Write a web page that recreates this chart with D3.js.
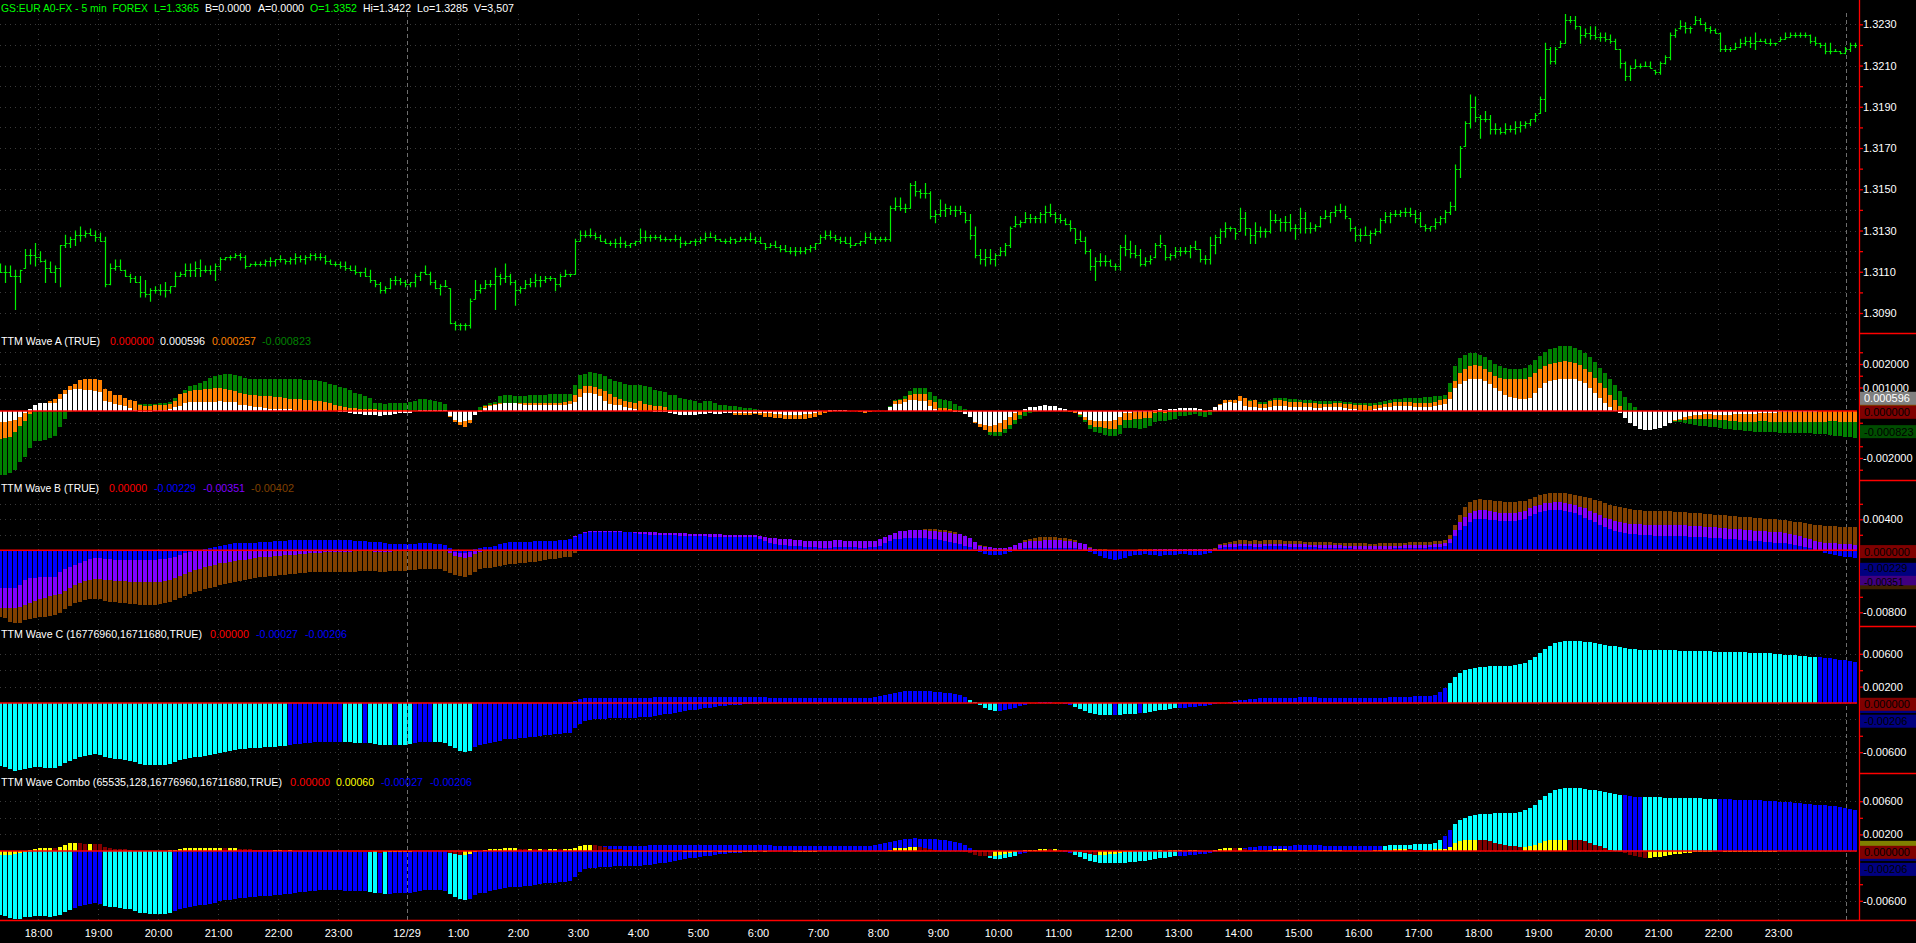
<!DOCTYPE html>
<html><head><meta charset="utf-8"><title>TTM Waves</title>
<script src="https://cdn.jsdelivr.net/npm/d3@7/dist/d3.min.js"></script>
<style>
html,body{margin:0;padding:0;background:#000;overflow:hidden}
svg{display:block;font-family:"Liberation Sans",Arial,sans-serif}
text{white-space:pre}
</style></head><body>
<svg id="chart" width="1916" height="943"></svg>
<script>
// ---------- DATA ----------
// price (pips above 1.3000), one entry per 5-min bar, first bar 17:20
const priceHigh=[114,113,113,111,111,121,121,124,120,116,115,113,
123,128,127,130,132,130,131,130,129,127,114,116,
116,111,109,108,108,106,102,103,104,105,103,110,
110,114,114,115,116,113,113,114,117,117,118,119,
119,118,114,115,115,116,117,116,118,116,117,119,
118,118,119,119,119,118,116,115,115,115,113,113,
110,112,111,106,105,103,107,108,107,106,105,109,
110,113,110,106,104,106,102,86,85,85,97,106,
104,106,106,112,109,114,109,106,103,106,107,109,
108,108,108,107,109,111,109,126,130,130,131,129,
128,126,125,126,127,125,124,125,131,130,128,128,
128,127,126,128,127,125,125,126,127,129,129,128,
126,126,127,126,127,127,129,127,127,124,124,125,
123,123,122,122,122,122,123,124,128,130,130,128,
127,127,127,124,125,129,129,127,127,127,142,146,
146,143,153,154,150,153,149,140,145,143,142,142,
142,139,138,132,121,121,121,119,122,124,132,137,
135,139,138,137,139,142,143,139,138,136,135,131,
130,127,121,117,119,118,116,114,123,128,125,123,
121,117,118,124,128,123,119,122,122,122,123,125,
121,118,127,128,131,134,132,131,141,139,131,134,
132,131,140,138,136,137,138,133,141,139,134,133,
137,140,139,142,143,142,136,132,131,132,130,131,
136,139,139,140,140,141,141,140,139,133,132,136,
137,140,144,162,171,183,196,195,186,188,186,182,
180,182,181,183,183,183,184,187,195,221,219,219,
222,235,234,234,229,228,229,229,226,226,225,223,
218,212,210,213,211,212,212,208,212,215,226,228,
232,231,229,234,233,231,229,228,226,220,219,221,
223,224,224,226,223,223,223,221,224,226,226,226,
226,226,225,224,221,221,221,218,217,219,221,221];
const priceLow=[110,105,108,92,105,112,114,113,115,105,110,105,
103,122,122,123,125,127,128,125,125,103,104,111,
111,108,105,105,98,98,96,100,99,98,100,103,
108,108,108,108,108,110,109,106,111,116,116,117,
116,112,113,113,113,113,113,113,115,114,114,114,
115,114,116,116,116,114,114,113,112,111,111,109,
108,108,105,103,100,100,102,104,104,103,103,103,
106,109,104,102,99,103,85,82,82,82,83,97,
100,102,103,92,104,105,104,94,100,102,103,103,
103,105,106,101,103,108,108,109,125,127,127,126,
125,124,123,122,122,122,122,123,124,125,125,126,
125,125,125,125,122,123,124,123,124,125,127,125,
125,124,124,124,125,125,125,124,124,121,122,122,
120,120,119,118,119,119,120,121,124,126,126,125,
124,124,122,123,123,124,126,124,125,125,125,140,
140,139,141,147,146,146,136,134,137,137,138,137,
138,134,126,117,114,113,114,113,118,118,122,132,
132,134,134,134,134,134,137,134,134,133,130,124,
125,119,111,106,113,113,113,111,111,118,117,117,
113,113,114,117,122,116,116,117,118,119,117,121,
115,114,114,119,124,127,130,126,130,128,124,124,
127,127,129,134,130,130,130,126,129,129,129,130,
132,136,134,137,139,136,130,125,125,128,124,128,
129,134,134,137,137,137,137,134,132,130,130,131,
133,134,138,140,156,171,180,183,175,183,177,177,
177,177,178,177,178,180,181,183,187,188,211,211,
219,221,231,228,221,224,223,223,222,222,221,218,
209,203,203,209,209,210,209,206,206,211,213,224,
228,226,226,230,230,227,226,226,217,217,217,218,
219,220,219,218,222,221,220,220,222,223,224,224,
224,224,221,220,219,216,216,217,216,216,217,219];
const priceClose=[110,110,108,108,111,118,118,117,115,112,110,112,
123,124,126,128,128,129,128,127,125,104,112,113,
111,108,107,105,100,99,101,101,101,101,103,108,
109,111,111,112,111,111,111,113,116,117,117,118,
117,113,114,114,114,115,115,116,116,115,116,117,
116,117,118,117,117,115,114,114,113,112,111,110,
110,108,106,104,101,102,106,106,105,104,105,108,
110,109,105,102,103,103,85,84,84,84,96,101,
102,104,104,108,107,108,105,101,102,104,105,106,
106,107,107,104,108,109,109,125,128,128,128,127,
125,124,124,124,124,123,124,125,127,127,127,127,
126,126,126,126,124,124,125,125,126,127,127,126,
125,125,126,125,126,126,126,125,124,122,123,122,
121,120,120,120,120,121,122,124,127,128,127,126,
125,124,123,124,125,127,126,126,126,126,141,142,
141,141,152,149,148,148,137,138,140,141,140,140,
139,135,128,118,116,117,116,118,120,123,131,133,
134,136,136,136,138,139,138,136,135,133,131,126,
125,120,113,115,115,115,113,113,122,121,119,118,
114,115,116,123,124,117,118,120,120,120,122,121,
116,116,123,127,130,131,131,129,136,131,128,130,
130,130,135,135,134,134,131,131,136,131,131,132,
136,137,139,140,140,137,131,128,128,128,129,130,
135,137,138,138,139,139,138,136,132,131,132,134,
136,139,142,160,170,182,190,185,184,184,179,179,
178,179,179,180,181,182,184,186,194,218,212,218,
221,232,232,229,225,226,225,224,224,223,222,218,
211,205,209,210,210,210,209,207,211,214,225,227,
229,228,228,232,230,228,227,226,218,218,218,219,
221,222,221,222,222,221,221,221,223,224,225,225,
225,225,222,221,220,217,217,217,216,218,220,220];

// TTM Wave A (units of 0.00001)
const waveAWhite=[-47,-47,-44,-37,-24,-9,10,27,35,35,35,33,
52,72,91,95,94,89,89,84,81,44,38,30,
27,20,13,6,-4,-4,-4,6,6,6,10,16,
23,35,38,38,38,38,38,38,41,38,38,38,
27,24,23,18,16,13,10,10,10,7,7,6,
6,4,4,4,4,4,1,1,-4,-6,-9,-11,
-13,-16,-18,-18,-20,-18,-16,-13,-10,-9,-7,1,
4,4,6,4,3,3,-23,-37,-47,-44,-37,-16,
-4,13,20,27,30,33,33,33,30,27,27,24,
27,24,27,27,24,27,30,38,58,77,77,72,
62,44,30,27,24,16,13,10,
1,0,-2,-4,-6,-6,-9,-11,-16,-16,-16,-16,
-13,-11,-9,-11,-11,-9,-9,-9,-9,-9,-9,-8,
-9,-9,-10,-12,-14,-15,-16,-16,-15,-13,-11,-8,
-4,2,6,6,6,6,2,0,-1,-3,-2,0,
1,2,17,31,31,37,48,48,44,41,23,9,
0,-1,-2,-3,-6,-13,-26,-48,-55,-60,-62,-60,
-51,-37,-26,-9,-2,9,17,17,20,27,23,23,
14,9,0,-4,-12,-26,-40,-44,-44,-44,-41,-40,
-26,-9,-9,-6,-6,-3,-3,6,10,6,10,10,
14,11,14,14,10,0,6,17,27,34,37,34,
41,20,17,17,14,11,17,20,
20,20,18,16,18,18,16,14,14,16,16,18,
18,14,10,8,6,6,4,8,12,16,18,20,
22,22,20,18,16,16,18,22,26,30,50,96,
117,128,135,138,135,128,117,100,85,70,60,55,
50,50,55,75,100,118,127,133,136,138,137,135,
128,118,96,75,55,34,15,5,-10,-30,-50,-65,
-75,-80,-80,-78,-72,-62,-50,-40,-32,-25,-20,-18,
-16,-14,-14,-15,-16,-16,-15,-14,-14,-12,-12,-12,
-10,-10,-8,-8,-6,-6,-5,-5,-4,-4,-3,-3,
-2,-2,-2,-2,-2,-1,-1,-1];
const waveAOrange=[-118,-115,-109,-89,-65,-44,-13,13,27,30,44,52,
72,91,108,115,133,138,138,138,133,95,86,69,
67,55,48,41,27,23,23,24,27,27,30,44,
72,77,86,91,91,94,95,98,98,95,91,86,
77,72,69,67,64,62,62,60,58,55,52,52,
50,48,47,44,41,37,33,27,20,16,13,13,
10,10,7,7,6,6,4,4,3,3,-10,0,
3,3,3,3,1,1,-27,-47,-61,-69,-51,-9,
6,20,27,30,34,35,35,35,34,34,33,33,
34,35,35,35,35,37,41,69,95,105,105,104,
95,84,72,58,52,44,38,34,
41,31,27,23,20,17,6,6,0,-3,-6,-9,
-9,-6,-5,-6,-7,-8,-9,-16,-16,-16,-16,-14,
-16,-26,-26,-30,-30,-34,-34,-34,-34,-34,-30,-26,
-16,-9,-3,-2,-1,0,0,-2,-4,-9,-6,-2,
0,1,10,41,45,51,69,74,74,74,48,37,
14,11,9,5,2,-2,-15,-51,-69,-82,-91,-91,
-88,-77,-58,-37,-16,-6,-2,0,2,5,5,4,
2,0,-4,-9,-16,-37,-58,-67,-69,-72,-77,-77,
-58,-37,-37,-34,-34,-31,-30,-9,-6,-9,-5,-4,
-2,-2,0,0,-2,-5,-2,5,31,45,48,48,
65,55,44,45,31,31,41,45,
45,42,40,38,38,36,34,32,30,30,30,32,
32,30,28,26,24,24,22,24,26,30,34,38,
40,40,38,36,34,34,36,40,45,50,80,127,
160,180,190,195,190,180,165,150,140,138,135,135,
135,138,145,160,178,190,198,205,210,212,210,205,
195,180,164,140,120,96,70,45,20,-5,-20,-30,
-38,-42,-45,-46,-46,-45,-44,-42,-40,-38,-36,-35,
-34,-34,-35,-36,-38,-40,-42,-44,-45,-46,-46,-45,
-44,-44,-45,-46,-46,-46,-46,-46,-45,-45,-45,-45,
-45,-45,-44,-44,-45,-45,-45,-45];
const waveAGreen=[-271,-271,-264,-250,-217,-197,-157,-129,-126,-122,-115,-108,
-69,-33,-5,20,40,55,65,70,70,65,60,55,
50,45,40,35,30,28,28,30,32,35,40,55,
62,88,105,112,119,129,140,147,155,157,157,155,
147,140,138,138,138,138,138,138,138,138,136,136,
135,133,133,133,129,123,115,109,102,98,91,77,
72,65,55,34,33,30,33,33,34,33,38,44,
52,52,48,41,38,31,-1,-4,-4,-4,-4,-1,
16,27,34,38,62,67,67,65,62,62,67,67,
69,69,71,74,74,74,74,109,152,157,164,160,
157,147,138,126,123,115,112,109,
112,105,101,91,86,79,69,69,55,52,48,41,
34,41,41,34,27,27,23,20,17,13,13,9,
6,0,-2,-3,-4,-5,-6,-6,-6,-6,-5,-4,
-3,-2,-1,0,0,0,0,0,-1,-2,-2,-1,
0,1,23,45,51,62,86,98,98,98,79,65,
51,45,41,31,23,9,-5,-30,-50,-75,-101,-105,
-105,-94,-77,-54,-34,-20,-9,-4,-2,0,0,-1,
-2,-3,-5,-6,-26,-45,-75,-91,-94,-101,-108,-108,
-96,-74,-72,-71,-75,-71,-65,-48,-41,-41,-37,-34,
-23,-23,-16,-11,-20,-26,-16,-5,10,25,30,33,
40,45,45,48,40,37,48,57,
57,55,52,50,48,48,46,44,42,42,42,42,
42,40,38,36,34,34,34,36,38,42,45,50,
52,55,55,55,56,58,60,62,65,70,120,190,
225,240,245,245,240,230,215,200,190,185,180,180,
180,185,195,215,235,250,262,270,276,278,276,270,
260,245,230,210,185,160,137,110,86,60,35,15,
0,-10,-18,-25,-30,-35,-40,-45,-48,-50,-55,-60,
-62,-65,-68,-70,-72,-75,-78,-80,-82,-85,-85,-88,
-88,-90,-90,-90,-92,-92,-92,-94,-94,-95,-95,-96,
-96,-98,-100,-105,-108,-110,-112,-115];

// TTM Wave B (units of 0.00001)
const waveBBrown=[-856,-877,-920,-942,-933,-899,-890,-877,-864,-856,-847,-834,
-813,-761,-718,-684,-662,-641,-632,-624,-624,-649,-662,-671,
-675,-684,-692,-697,-705,-705,-705,-705,-697,-684,-667,-641,
-619,-589,-563,-538,-520,-503,-486,-469,-452,-439,-426,-413,
-396,-383,-370,-357,-348,-340,-331,-327,-323,-318,-310,-301,
-297,-288,-284,-280,-275,-275,-275,-275,-275,-275,-275,-275,
-271,-267,-267,-271,-275,-275,-271,-267,-262,-262,-258,-254,
-245,-241,-241,-241,-245,-262,-288,-318,-331,-340,-314,-275,
-245,-232,-224,-211,-198,-189,-181,-172,-163,-159,-155,-150,
-133,-125,-116,-116,-103,-90,-82,-39,4,40,70,95,
110,120,130,140,150,155,160,165,
150,148,146,144,142,140,138,136,134,132,130,128,
126,124,122,120,118,116,114,112,110,108,106,104,
100,96,92,88,84,80,76,72,68,64,60,56,
52,50,48,46,44,42,40,40,40,40,40,42,
45,50,80,120,160,200,235,258,268,272,272,270,
266,258,246,230,212,185,150,110,70,52,40,32,
22,30,45,70,100,129,150,165,172,172,170,168,
165,160,150,129,100,86,40,20,15,12,10,8,
8,8,8,10,12,13,15,17,19,21,21,21,
21,21,20,20,20,20,22,30,86,100,110,120,
129,129,125,129,125,129,129,129,
129,125,120,118,115,112,110,108,106,104,102,100,
98,96,94,92,90,88,86,86,88,90,92,95,
98,100,102,104,106,108,110,115,120,130,200,330,
450,560,620,650,660,655,645,640,630,625,620,625,
630,640,660,690,710,725,735,740,740,735,730,720,
705,690,670,650,630,610,590,570,555,545,535,525,
515,510,505,505,505,505,505,500,495,490,485,480,
475,470,465,460,455,450,445,440,435,430,425,420,
415,410,405,400,395,390,380,370,360,350,340,330,
325,320,315,310,305,302,300,300];
const waveBPurple=[-740,-745,-748,-745,-730,-700,-675,-650,-630,-610,-595,-580,
-565,-530,-490,-450,-420,-400,-385,-375,-370,-380,-385,-390,
-395,-400,-405,-410,-412,-415,-415,-412,-405,-395,-380,-360,
-330,-300,-275,-255,-235,-215,-200,-185,-170,-160,-150,-140,
-130,-120,-110,-100,-92,-85,-80,-75,-70,-65,-60,-55,
-50,-45,-40,-35,-30,-25,-22,-20,-18,-17,-16,-15,
-15,-15,-15,-16,-17,-18,-16,-14,-12,-10,-8,-6,
-4,-4,-5,-6,-8,-12,-40,-70,-90,-95,-80,-50,
-25,-10,5,15,25,35,45,55,62,68,74,80,
86,92,98,104,110,118,130,180,215,235,245,250,
250,250,248,246,244,242,240,238,
237,235,232,230,228,226,224,222,220,218,216,214,
212,210,208,206,204,202,200,199,198,196,195,194,
180,172,165,158,152,146,140,135,130,126,124,122,
122,124,126,128,128,126,124,122,120,120,122,125,
140,170,200,225,245,255,262,265,265,262,255,248,
240,232,224,215,205,190,160,110,52,45,38,30,
25,28,40,70,100,108,115,120,125,129,129,128,
127,125,120,110,90,75,35,14,10,8,6,5,
5,5,5,6,8,9,10,11,12,13,13,13,
13,13,12,12,12,12,14,20,65,70,75,80,
86,86,84,86,84,86,86,86,
86,84,82,80,78,76,74,72,70,68,66,64,
62,60,58,56,54,52,50,50,52,54,56,58,
60,62,64,66,68,70,72,75,80,90,150,260,
360,430,480,510,520,515,505,495,485,480,478,480,
490,510,540,570,590,605,615,620,618,612,600,585,
565,540,510,480,450,420,400,380,365,355,345,340,
335,332,330,330,330,330,330,328,325,322,318,314,
310,305,300,295,290,285,280,275,270,265,260,255,
250,245,240,235,230,225,215,200,180,160,140,120,
110,100,95,90,85,80,75,70];
const waveBBlue=[-490,-490,-490,-490,-447,-383,-361,-353,-348,-348,-348,-340,
-275,-237,-211,-189,-168,-133,-116,-103,-95,-116,-116,-120,
-120,-125,-125,-125,-129,-129,-125,-125,-116,-108,-99,-82,
-60,-39,-22,-9,4,17,30,47,60,73,82,90,
95,95,99,99,103,108,112,116,120,125,133,133,
133,133,133,138,138,138,138,133,133,129,129,120,
120,120,112,108,103,90,86,82,82,82,82,82,
90,90,90,82,75,69,26,-17,-39,-39,-17,13,
30,39,47,56,82,99,103,103,108,112,112,116,
120,120,125,125,129,133,142,176,211,228,237,241,
241,240,238,236,234,232,230,228,
206,204,202,200,198,196,194,192,190,188,186,184,
182,180,178,176,175,174,173,173,172,172,172,172,
150,120,95,80,70,65,60,55,50,45,40,38,
36,36,36,38,40,40,40,38,36,36,38,40,
60,90,120,140,150,158,163,163,160,155,150,140,
130,118,105,90,75,60,40,21,-21,-43,-60,-64,
-60,-45,-25,-5,15,25,30,33,34,34,34,33,
32,30,28,25,21,10,-20,-43,-70,-95,-110,-120,
-115,-95,-75,-60,-55,-52,-60,-66,-69,-66,-60,-55,
-52,-52,-55,-60,-58,-52,-40,-10,34,40,45,48,
50,52,50,48,46,50,52,52,
52,50,48,46,44,42,40,38,36,34,32,30,
28,26,24,22,20,18,16,16,18,20,22,24,
26,28,30,32,34,36,38,40,45,55,100,180,
260,320,370,400,410,405,395,385,380,375,375,380,
390,410,440,470,495,510,520,525,520,510,495,475,
450,420,390,360,330,300,275,255,240,225,215,205,
200,195,192,190,190,190,188,186,184,182,178,174,
170,166,162,158,154,150,145,140,135,130,125,120,
115,110,105,100,95,90,80,70,55,40,25,10,
-10,-30,-45,-60,-70,-80,-90,-95];

// TTM Wave C: slow and fast histograms (units of 0.00001)
const waveC1=[-768,-785,-809,-825,-817,-801,-797,-785,-785,-789,-797,-789,
-768,-736,-707,-687,-663,-646,-634,-626,-634,-663,-675,-679,
-687,-695,-703,-720,-744,-752,-756,-756,-756,-756,-748,-720,
-695,-683,-671,-663,-654,-646,-634,-622,-606,-593,-585,-573,
-565,-561,-553,-549,-545,-541,-537,-533,-528,-524,-516,-504,
-496,-492,-484,-476,-472,-472,-472,-472,-472,-476,-480,-484,
-484,-484,-492,-500,-508,-516,-516,-512,-512,-508,-504,-492,
-480,-472,-472,-472,-472,-484,-524,-553,-581,-593,-581,-533,
-512,-500,-484,-472,-463,-443,-439,-439,-431,-423,-419,-411,
-402,-390,-386,-382,-378,-370,-362,-309,-256,-220,-207,-199,
-195,-191,-187,-183,-183,-179,-179,-179,
-175,-170,-165,-160,-150,-140,-130,-120,-110,-100,-90,-80,
-70,-62,-55,-48,-42,-36,-30,-25,-20,-16,-12,-8,
-5,-2,0,2,4,6,8,10,12,14,16,18,
22,26,30,34,38,42,46,50,55,60,65,70,
80,95,110,125,135,145,150,152,150,148,145,140,
135,128,120,110,95,70,40,10,-30,-60,-85,-100,
-100,-90,-75,-55,-35,-20,-5,5,10,12,10,5,
0,-10,-25,-45,-70,-95,-120,-135,-145,-150,-150,-148,
-145,-140,-135,-130,-125,-120,-110,-100,-90,-80,-72,-65,
-60,-55,-50,-45,-40,-32,-25,-15,-5,5,15,25,
35,42,48,52,55,58,60,62,64,65,66,67,
68,68,68,68,67,66,65,64,63,62,62,62,
62,62,62,63,64,66,68,70,72,75,78,80,
82,85,90,100,130,180,250,320,370,400,420,430,
440,445,450,452,455,455,455,460,470,490,520,560,
610,660,700,730,745,755,760,760,755,750,740,730,
720,710,700,690,680,670,660,655,650,648,646,645,
645,644,643,642,640,640,638,636,634,632,630,628,
626,624,622,620,618,616,614,612,610,608,605,600,
595,590,585,580,575,570,565,560,555,550,545,540,
530,520,510,500];
const waveC2=[-300,-320,-340,-350,-340,-320,-300,-280,-270,-270,-270,-260,
-240,-210,-180,-150,-120,-100,-90,-85,-90,-110,-130,-150,
-170,-190,-210,-230,-250,-260,-265,-265,-260,-250,-230,-200,
-170,-150,-135,-120,-110,-100,-95,-90,-85,-80,-78,-76,
-74,-72,-70,-68,-66,-64,-62,-60,-58,-56,-54,-52,
-50,-48,-46,-44,-42,-40,-40,-40,-42,-44,-46,-48,
-50,-52,-54,-56,-58,-60,-60,-58,-56,-54,-52,-50,
-48,-46,-44,-44,-46,-50,-80,-110,-130,-140,-120,-90,
-70,-55,-45,-35,-28,-22,-18,-14,-10,-8,-6,-4,
-2,0,2,4,6,8,10,30,50,57,60,62,
63,64,64,64,64,64,64,64,65,66,67,68,
69,70,70,70,70,70,70,70,70,70,70,70,
70,70,70,70,70,70,70,70,69,68,67,66,
65,64,63,62,61,60,60,60,60,60,60,60,
60,60,60,60,60,62,65,70,75,80,90,100,
110,115,118,120,120,118,115,110,105,100,92,85,
75,55,30,5,-20,-40,-55,-65,-65,-58,-48,-35,
-22,-12,-3,3,6,7,6,3,0,-6,-15,-28,
-42,-58,-72,-82,-88,-90,-90,-88,-86,-84,-80,-78,
-75,-72,-66,-60,-54,-48,-43,-39,-36,-33,-30,-27,
-24,-20,-15,-9,-3,3,9,15,21,25,29,31,
33,35,36,37,38,39,40,40,41,41,41,41,
40,40,39,38,38,37,37,37,37,37,37,38,
38,40,41,42,43,45,47,48,49,51,54,60,
78,108,150,192,222,240,252,258,264,267,270,271,
273,273,273,276,282,294,312,336,366,396,420,438,
447,453,456,456,453,450,444,438,432,426,420,414,
408,402,396,393,390,389,388,387,387,386,386,385,
384,384,383,382,381,379,378,377,376,374,373,372,
370,368,366,365,363,362,360,357,354,351,348,345,
342,339,336,333,330,327,324,318,312,306,300,290];
// colour runs of the slow histogram: c = cyan, b = blue
const waveCColorRuns=[["c",58],["b",11],["c",4],["b",1],["c",5],["b",1],["c",3],["b",4],["c",8],["b",99],["c",6],["b",15],["c",8],["b",1],["c",4],["b",1],["c",7],["b",54],["c",74],["b",8]];
const comboColorRuns=[["c",15],["b",6],["c",14],["b",39],["c",2],["b",1],["c",1],["b",12],["c",4],["b",103],["c",7],["b",11],["c",21],["b",41],["c",12],["b",2],["c",34],["b",4],["c",15],["b",28]];

// time axis
const hourLabels=["18:00","19:00","20:00","21:00","22:00","23:00","12/29","1:00","2:00","3:00","4:00","5:00","6:00","7:00","8:00","9:00","10:00","11:00","12:00","13:00","14:00","15:00","16:00","17:00","18:00","19:00","20:00","21:00","22:00","23:00"];
const hourBars=[7.6,19.6,31.6,43.6,55.6,67.6,81.3,91.6,103.6,115.6,127.6,139.6,151.6,163.6,175.6,187.6,199.6,211.6,223.6,235.6,247.6,259.6,271.6,283.6,295.6,307.6,319.6,331.6,343.6,355.6];
const dateLineBars=[81.3,369.2];

// axis ticks (labels that sit under the value badges are kept as plain ticks)
const priceMajor=[1.3090,1.3110,1.3130,1.3150,1.3170,1.3190,1.3210,1.3230];
const priceMinor=[1.3100,1.3120,1.3140,1.3160,1.3180,1.3200,1.3220];
const aMajor=[0.002,0.001,-0.002], aMinor=[0.0025,0.0015,0.0005,0,-0.0005,-0.001,-0.0015,-0.0025];
const bMajor=[0.004,-0.008], bMinor=[0.006,0.002,0,-0.002,-0.004,-0.006];
const cMajor=[0.006,0.002,-0.006], cMinor=[0.004,0,-0.002,-0.004];

// legends: [text, left x, width, colour]
const headerParts=[["GS:EUR A0-FX - 5 min  FOREX",0,147,"#00ff00"],["L=1.3365",153,45,"#00ff00"],["B=0.0000",204,46,"#fff"],["A=0.0000",257,46,"#fff"],["O=1.3352",309,47,"#00ff00"],["Hi=1.3422",362,48,"#fff"],["Lo=1.3285",416,51,"#fff"],["V=3,507",473,40,"#fff"]];
const legendA=[["TTM Wave A (TRUE)",0,99,"#fff"],["0.000000",109,44,"#ff0000"],["0.000596",159,45,"#fff"],["0.000257",211,44,"#ff8000"],["-0.000823",261,49,"#008000"]];
const legendB=[["TTM Wave B (TRUE)",0,98,"#fff"],["0.00000",108,38,"#ff0000"],["-0.00229",153,42,"#0000ff"],["-0.00351",202,42,"#8000ff"],["-0.00402",250,43,"#804000"]];
const legendC=[["TTM Wave C (16776960,16711680,TRUE)",0,201,"#fff"],["0.00000",209,39,"#ff0000"],["-0.00027",255,42,"#0000ff"],["-0.00206",304,42,"#0000ff"]];
const legendD=[["TTM Wave Combo (65535,128,16776960,16711680,TRUE)",0,281,"#fff"],["0.00000",289,40,"#ff0000"],["0.00060",335,38,"#ffff00"],["-0.00027",380,42,"#0000ff"],["-0.00206",429,42,"#0000ff"]];

// ---------- DRAWING ----------
const svg=d3.select("#chart");
svg.append("rect").attr("width",1916).attr("height",943).attr("fill","#000");
const FONT="'Liberation Sans',Arial,sans-serif";
const PLOT_R=1857, AX=1859;
const x=d3.scaleLinear().domain([0,371]).range([0,1855]);
const yP=d3.scaleLinear().domain([1.3090,1.3230]).range([313,24.3]);
const yA=d3.scaleLinear().domain([-0.002,0.002]).range([458,364]);
const yB=d3.scaleLinear().domain([-0.008,0.004]).range([612.3,519.3]);
const yC=d3.scaleLinear().domain([-0.006,0.006]).range([752.2,653.8]);
const yD=d3.scaleLinear().domain([-0.006,0.006]).range([900.8,801.2]);
const panels=[
 {id:"P",top:0,bottom:333,y:yP,major:priceMajor,minor:priceMinor,fmt:d=>d.toFixed(4)},
 {id:"A",top:333,bottom:480,y:yA,major:aMajor,minor:aMinor,fmt:d=>d.toFixed(6)},
 {id:"B",top:480,bottom:626,y:yB,major:bMajor,minor:bMinor,fmt:d=>d.toFixed(5)},
 {id:"C",top:626,bottom:773,y:yC,major:cMajor,minor:cMinor,fmt:d=>d.toFixed(5)},
 {id:"D",top:773,bottom:920,y:yD,major:cMajor,minor:cMinor,fmt:d=>d.toFixed(5)}
];
const defs=svg.append("defs");
panels.forEach(p=>{
  defs.append("clipPath").attr("id","clip"+p.id).append("rect")
    .attr("x",0).attr("y",p.top).attr("width",PLOT_R).attr("height",p.bottom-p.top);
});

// grid
const grid=svg.append("g").attr("stroke","#3a3a3a").attr("stroke-dasharray","1,4").attr("stroke-width",1);
panels.forEach(p=>{
  p.major.concat(p.minor).forEach(v=>{
    const yy=Math.round(p.y(v))+0.5;
    if(yy>p.top+2 && yy<p.bottom-1) grid.append("line").attr("x1",0).attr("x2",PLOT_R).attr("y1",yy).attr("y2",yy);
  });
});
hourBars.forEach((b,k)=>{
  if(hourLabels[k].indexOf("/")>=0) return;
  const xx=Math.round(x(b))+0.5;
  grid.append("line").attr("x1",xx).attr("x2",xx).attr("y1",14).attr("y2",920);
});
// date separators
dateLineBars.forEach(b=>{
  const xx=Math.round(x(b))+0.5;
  svg.append("line").attr("x1",xx).attr("x2",xx).attr("y1",13).attr("y2",920)
    .attr("stroke","#6e6e6e").attr("stroke-dasharray","4,3").attr("stroke-width",1);
});

const idx=d3.range(priceHigh.length);
// price OHLC bars
const gP=svg.append("g").attr("clip-path","url(#clipP)").attr("stroke","#00f000").attr("stroke-width",1.2).attr("fill","none");
gP.selectAll("path").data(idx).join("path").attr("d",i=>{
  const cx=Math.round(x(i))+0.5;
  const yh=yP(1.3+priceHigh[i]/1e4), yl=yP(1.3+priceLow[i]/1e4)+1;
  const prev=i>0?priceClose[i-1]:priceClose[0];
  const o=Math.max(priceLow[i],Math.min(priceHigh[i],prev));
  const yo=Math.round(yP(1.3+o/1e4))+0.5, yc=Math.round(yP(1.3+priceClose[i]/1e4))+0.5;
  return `M${cx},${yh}V${yl}M${cx-2},${yo}H${cx}M${cx},${yc}H${cx+2}`;
});

function expandRuns(runs){const out=[];runs.forEach(([c,n])=>{for(let k=0;k<n;k++)out.push(c);});return out;}
function hist(g,vals,y,color){
  const y0=y(0);
  g.append("g").selectAll("rect").data(vals).join("rect")
    .attr("x",(d,i)=>Math.round(x(i))-2).attr("width",4)
    .attr("y",d=>Math.min(y(d/1e5),y0)).attr("height",d=>Math.max(0,Math.abs(y(d/1e5)-y0)))
    .attr("fill",typeof color==="function"?color:()=>color)
    .attr("shape-rendering","crispEdges");
}
function zeroLine(y){
  svg.append("line").attr("x1",0).attr("x2",PLOT_R).attr("y1",y(0)).attr("y2",y(0))
    .attr("stroke","#ff0000").attr("stroke-width",1.5);
}
// Wave A
const gA=svg.append("g").attr("clip-path","url(#clipA)");
hist(gA,waveAGreen,yA,"#008000");
hist(gA,waveAOrange,yA,"#ff8000");
hist(gA,waveAWhite,yA,"#ffffff");
zeroLine(yA);
// Wave B
const gB=svg.append("g").attr("clip-path","url(#clipB)");
hist(gB,waveBBrown,yB,"#804000");
hist(gB,waveBPurple,yB,"#8000ff");
hist(gB,waveBBlue,yB,"#0000ff");
zeroLine(yB);
// Wave C
const cCols=expandRuns(waveCColorRuns), dCols=expandRuns(comboColorRuns);
const colMap={c:"#00ffff",b:"#0000ff"};
const gC=svg.append("g").attr("clip-path","url(#clipC)");
hist(gC,waveC2,yC,"#0000ff");
hist(gC,waveC1,yC,(d,i)=>colMap[cCols[i]]||"#0000ff");
zeroLine(yC);
// Combo
const gD=svg.append("g").attr("clip-path","url(#clipD)");
hist(gD,waveC2,yD,"#0000ff");
hist(gD,waveC1,yD,(d,i)=>colMap[dCols[i]]||"#0000ff");
hist(gD,waveAWhite,yD,(d,i)=>(i===0||waveAWhite[i]>=waveAWhite[i-1])?"#ffff00":"#800000");
zeroLine(yD);

// right axes
svg.append("line").attr("x1",AX+0.5).attr("x2",AX+0.5).attr("y1",0).attr("y2",920).attr("stroke","#ff0000").attr("stroke-width",1.3);
[333,480,626,773].forEach(yy=>svg.append("line").attr("x1",AX).attr("x2",1916).attr("y1",yy+0.5).attr("y2",yy+0.5).attr("stroke","#ff0000").attr("stroke-width",1.3));
svg.append("line").attr("x1",0).attr("x2",1916).attr("y1",920.5).attr("y2",920.5).attr("stroke","#ff0000").attr("stroke-width",1.5);
function styleAxis(g){
  g.attr("font-family",FONT).attr("font-size",11);
  g.select(".domain").remove();
  g.selectAll(".tick line").attr("stroke","#ff0000").attr("stroke-width",1.3);
  g.selectAll(".tick text").attr("fill","#ffffff");
}
panels.forEach(p=>{
  const gMaj=svg.append("g").attr("transform",`translate(${AX},0)`)
    .call(d3.axisRight(p.y).tickValues(p.major).tickFormat(p.fmt).tickSize(4).tickPadding(0));
  styleAxis(gMaj);
  const gMin=svg.append("g").attr("transform",`translate(${AX},0)`)
    .call(d3.axisRight(p.y).tickValues(p.minor).tickFormat("").tickSize(4));
  styleAxis(gMin);
});

// value badges on the right axis (text omitted where the reference hides it)
// [scale, value, background, text colour, text, text shift]
const badges=[
 [yA,0.000257,"#804000","#000","",0],
 [yA,-0.000823,"#004d00","#000","-0.000823",0],
 [yA,0.000596,"#808080","#fff","0.000596",0],
 [yA,0,"#800000","#000","0.000000",0],
 [yB,-0.00402,"#3f2000","#000","",0],
 [yB,-0.00351,"#400080","#000","-0.00351",4],
 [yB,-0.00229,"#000080","#000","-0.00229",-1],
 [yB,0,"#800000","#000","0.000000",0],
 [yC,-0.00027,"#000080","#000","",0],
 [yC,0,"#800000","#000","0.000000",0],
 [yC,-0.00206,"#000080","#000","-0.00206",0],
 [yD,0.00060,"#808000","#000","",0],
 [yD,-0.00027,"#000080","#000","",0],
 [yD,0,"#800000","#000","0.000000",0],
 [yD,-0.00206,"#000080","#000","-0.00206",0]
];
const gBadgeR=svg.append("g"), gBadgeT=svg.append("g").attr("font-family",FONT).attr("font-size",11);
badges.forEach(([y,v,bg,fg,t,sh])=>{
  const cy=y(v)+1.3;
  gBadgeR.append("rect").attr("x",AX+1).attr("y",cy-6.5).attr("width",1916-AX-1).attr("height",13).attr("fill",bg);
});
badges.forEach(([y,v,bg,fg,t,sh])=>{
  const cy=y(v)+1.3;
  if(t) gBadgeT.append("text").attr("x",1864).attr("y",cy+sh).attr("dy","0.36em").attr("fill",fg).attr("font-size",sh>0?10:11).text(t);
});

// time axis
const gT=svg.append("g").attr("transform","translate(0,920)")
  .call(d3.axisBottom(x).tickValues(hourBars).tickFormat((d,k)=>hourLabels[k]).tickSize(0).tickPadding(9));
gT.attr("font-family",FONT).attr("font-size",11);
gT.select(".domain").remove();
gT.selectAll("text").attr("fill","#ffffff");

// legends
function legend(parts,baseline){
  const g=svg.append("g").attr("font-family",FONT).attr("font-size",11);
  parts.forEach(([t,xx,w,c])=>g.append("text").attr("x",xx+1).attr("y",baseline).attr("fill",c)
    .attr("textLength",w).attr("lengthAdjust","spacingAndGlyphs").text(t));
}
legend(headerParts,12);
legend(legendA,344.5);
legend(legendB,491.5);
legend(legendC,638);
legend(legendD,785.5);
</script>
</body></html>
